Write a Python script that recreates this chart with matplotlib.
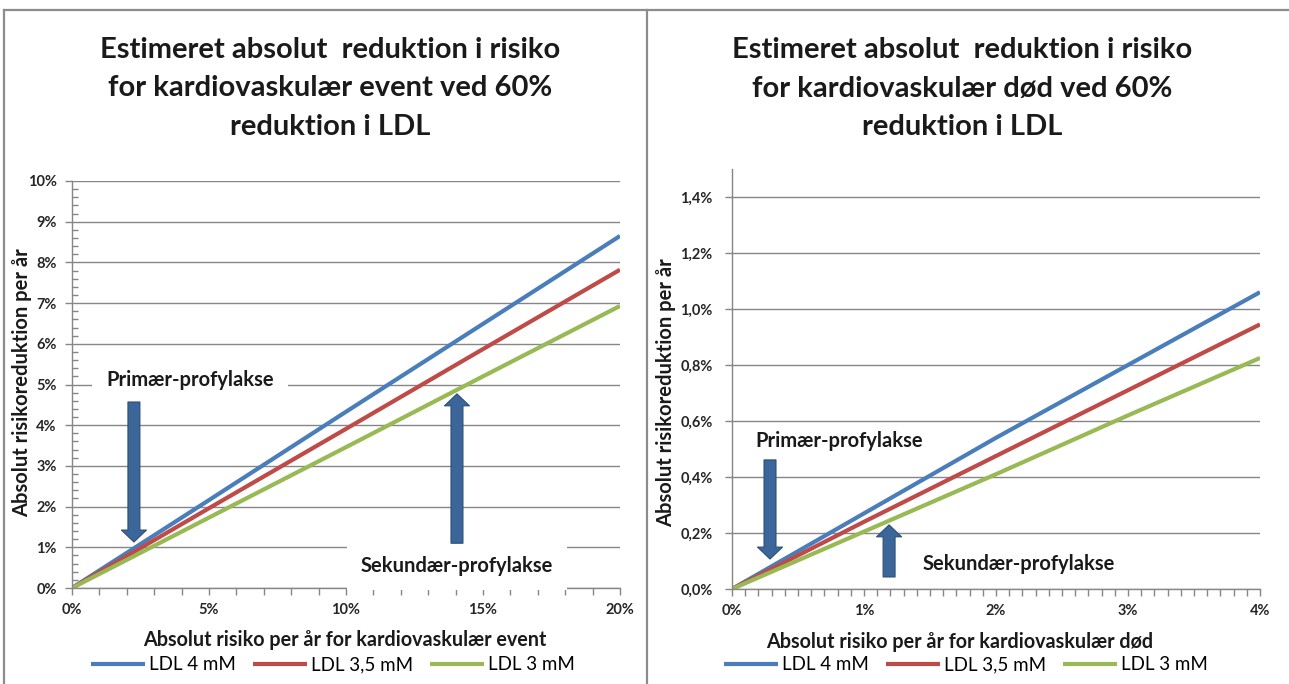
import matplotlib.pyplot as plt
from matplotlib.lines import Line2D
from matplotlib.ticker import MultipleLocator, FuncFormatter

plt.rcParams['font.family'] = ['Lato', 'DejaVu Sans']

# values, in percent
event_risk = [0, 5, 10, 15, 20]
event_ldl4 = [0, 2.16, 4.33, 6.49, 8.65]
event_ldl35 = [0, 1.96, 3.91, 5.87, 7.82]
event_ldl3 = [0, 1.73, 3.46, 5.20, 6.93]

death_risk = [0, 1, 2, 3, 4]
death_ldl4 = [0, 0.27, 0.54, 0.80, 1.06]
death_ldl35 = [0, 0.24, 0.475, 0.71, 0.945]
death_ldl3 = [0, 0.205, 0.41, 0.62, 0.825]

labels = ['LDL 4 mM', 'LDL 3,5 mM', 'LDL 3 mM']
colors = ['#4A7EBB', '#BE4B48', '#98B954']

W, H = 1289, 684
GRAY = '#868686'
ARROW_FC = '#3A6699'
ARROW_EC = '#2C4D77'
TXT = '#1a1a1a'


def fx(px):
    return px / W


def fy(py):
    return 1 - py / H


def style_axis(ax):
    for s in ['top', 'right']:
        ax.spines[s].set_visible(False)
    for s in ['left', 'bottom']:
        ax.spines[s].set_color(GRAY)
        ax.spines[s].set_linewidth(1.0)
    ax.grid(axis='y', which='major', color=GRAY, lw=1.0)
    ax.set_axisbelow(True)
    ax.tick_params(which='both', colors=GRAY, labelcolor='#262626',
                   labelsize=10.5, width=1.0)
    for t in ax.get_xticklabels() + ax.get_yticklabels():
        t.set_fontweight('bold')


def arrow(ax, x, y0, y1):
    ax.annotate('', xy=(x, y1), xytext=(x, y0),
                arrowprops=dict(arrowstyle='simple,tail_width=0.43,head_width=0.9,head_length=0.43',
                                fc=ARROW_FC, ec=ARROW_EC, lw=0.8,
                                mutation_scale=20, shrinkA=0, shrinkB=0))


fig = plt.figure(figsize=(W / 100, H / 100), dpi=100)

# ---- left: kardiovaskulær event
ax1 = fig.add_axes([fx(72), fy(588), fx(620 - 72), (588 - 181) / H])
for ys, c, lab in zip([event_ldl4, event_ldl35, event_ldl3], colors, labels):
    ax1.plot(event_risk, ys, color=c, lw=3.0, label=lab, solid_capstyle='butt')
ax1.set_xlim(0, 20)
ax1.set_ylim(0, 10)
ax1.xaxis.set_major_locator(MultipleLocator(5))
ax1.xaxis.set_minor_locator(MultipleLocator(1))
ax1.yaxis.set_major_locator(MultipleLocator(1))
ax1.yaxis.set_minor_locator(MultipleLocator(0.2))
pct = FuncFormatter(lambda v, p: f'{v:.0f}%')
ax1.xaxis.set_major_formatter(pct)
ax1.yaxis.set_major_formatter(pct)
ax1.tick_params(axis='x', which='both', direction='out', length=5, pad=6)
ax1.tick_params(axis='y', which='major', direction='out', length=5, pad=6)
ax1.tick_params(axis='y', which='minor', direction='in', length=4)
style_axis(ax1)

ax1.text(4.3, 5.1, 'Primær-profylakse', ha='center', va='center',
         fontsize=14.5, fontweight='bold', color=TXT,
         bbox=dict(boxstyle='square,pad=0.7', fc='white', ec='none'))
ax1.text(14.05, 0.55, 'Sekundær-profylakse', ha='center', va='center',
         fontsize=14.5, fontweight='bold', color=TXT,
         bbox=dict(boxstyle='square,pad=0.7', fc='white', ec='none'))
arrow(ax1, 2.26, 4.57, 1.13)
arrow(ax1, 14.05, 1.10, 4.77)

# ---- right: kardiovaskulær død
ax2 = fig.add_axes([fx(732), fy(589), fx(1260 - 732), (589 - 169) / H])
for ys, c, lab in zip([death_ldl4, death_ldl35, death_ldl3], colors, labels):
    ax2.plot(death_risk, ys, color=c, lw=3.0, label=lab, solid_capstyle='butt')
ax2.set_xlim(0, 4)
ax2.set_ylim(0, 1.5)
ax2.xaxis.set_major_locator(MultipleLocator(1))
ax2.xaxis.set_minor_locator(MultipleLocator(0.1))
ax2.yaxis.set_major_locator(MultipleLocator(0.2))
ax2.xaxis.set_major_formatter(pct)
ax2.yaxis.set_major_formatter(FuncFormatter(lambda v, p: f'{v:.1f}%'.replace('.', ',')))
ax2.tick_params(axis='x', which='both', direction='out', length=5, pad=6)
ax2.tick_params(axis='y', which='major', direction='out', length=5, pad=9)
style_axis(ax2)

ax2.text(0.81, 0.53, 'Primær-profylakse', ha='center', va='center',
         fontsize=14.5, fontweight='bold', color=TXT)
ax2.text(2.17, 0.09, 'Sekundær-profylakse', ha='center', va='center',
         fontsize=14.5, fontweight='bold', color=TXT)
arrow(ax2, 0.288, 0.461, 0.107)
arrow(ax2, 1.19, 0.043, 0.229)

# ---- titles
titles = [
    (330, ['Estimeret absolut  reduktion i risiko',
           'for kardiovaskulær event ved 60%',
           'reduktion i LDL']),
    (962, ['Estimeret absolut  reduktion i risiko',
           'for kardiovaskulær død ved 60%',
           'reduktion i LDL']),
]
for cx, lines in titles:
    for i, line in enumerate(lines):
        fig.text(fx(cx), fy(50 + 38.5 * i), line, ha='center', va='center',
                 fontsize=21, fontweight='bold', color=TXT)

# ---- axis titles
fig.text(fx(22), fy(383), 'Absolut risikoreduktion per år', rotation=90,
         ha='center', va='center', fontsize=14.5, fontweight='bold', color=TXT)
fig.text(fx(666), fy(393), 'Absolut risikoreduktion per år', rotation=90,
         ha='center', va='center', fontsize=14.5, fontweight='bold', color=TXT)
fig.text(fx(345), fy(640), 'Absolut risiko per år for kardiovaskulær event',
         ha='center', va='center', fontsize=14.2, fontweight='bold', color=TXT)
fig.text(fx(960), fy(642), 'Absolut risiko per år for kardiovaskulær død',
         ha='center', va='center', fontsize=14.2, fontweight='bold', color=TXT)

# ---- legends
for ax, cx in [(ax1, 333), (ax2, 966)]:
    h, l = ax.get_legend_handles_labels()
    fig.legend(h, l, loc='center', bbox_to_anchor=(fx(cx), fy(665)), ncol=3,
               frameon=False, handlelength=2.9, columnspacing=0.9,
               handletextpad=0.2, fontsize=13.5, borderaxespad=0)

# ---- frame lines
for x0, y0, x1, y1 in [(4, 10, W, 10), (4, 10, 4, H), (647, 10, 647, H)]:
    fig.add_artist(Line2D([fx(x0), fx(x1)], [fy(y0), fy(y1)],
                          color='#8c8c8c', lw=1.6, transform=fig.transFigure))

fig.savefig('out.png', dpi=100)
